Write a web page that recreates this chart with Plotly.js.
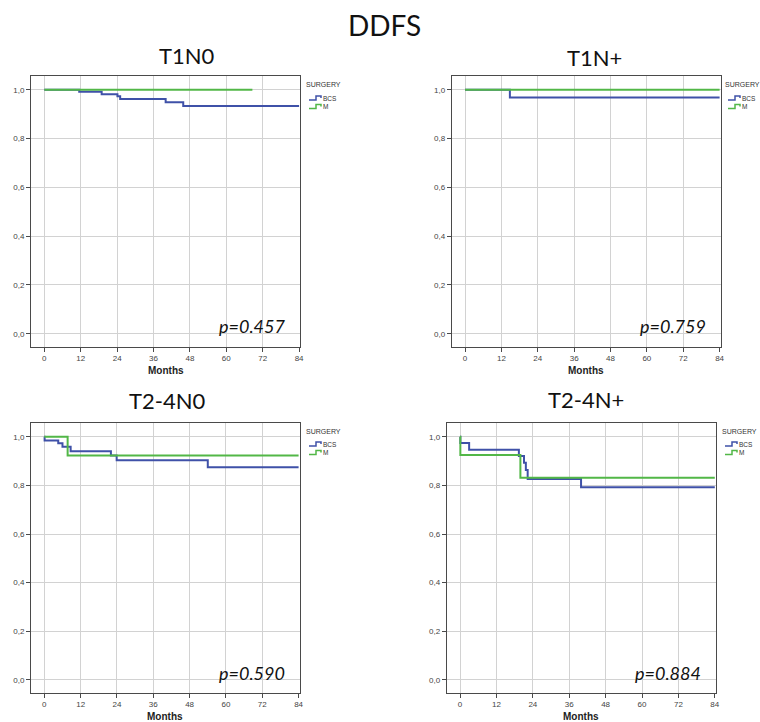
<!DOCTYPE html>
<html>
<head>
<meta charset="utf-8">
<script src="https://cdn.plot.ly/plotly-3.0.1.min.js"></script>
<style>html,body{margin:0;padding:0;background:#fff;}#chart{width:760px;height:722px;}</style>
</head>
<body>
<div id="chart"></div>
<script>
// ---- Data ----
const panelTitles = ["T1N0", "T1N+", "T2-4N0", "T2-4N+"];
const pValues = ["p=0.457", "p=0.759", "p=0.590", "p=0.884"];
const groupNames = ["BCS", "M"];
const xTicks = [0, 12, 24, 36, 48, 60, 72, 84];
const yTicks = [0, 0.2, 0.4, 0.6, 0.8, 1.0];

// T1N0
const t1n0BcsTime = [0, 11.5, 18.9, 24.1, 25.0, 40.0, 45.8, 84];
const t1n0BcsSurv = [1, 0.992, 0.982, 0.974, 0.962, 0.949, 0.934, 0.934];
const t1n0MTime = [0, 68.6];
const t1n0MSurv = [1, 1];
// T1N+
const t1npBcsTime = [0, 14.8, 84];
const t1npBcsSurv = [1, 0.969, 0.969];
const t1npMTime = [0, 84];
const t1npMSurv = [1, 1];
// T2-4N0
const t24n0BcsTime = [0, 0.1, 4.6, 6.0, 8.7, 22.0, 23.9, 54.0, 84];
const t24n0BcsSurv = [1, 0.985, 0.973, 0.959, 0.941, 0.923, 0.904, 0.875, 0.875];
const t24n0MTime = [0, 7.7, 84];
const t24n0MSurv = [1, 0.923, 0.923];
// T2-4N+
const t24npBcsTime = [0, 0.1, 3.0, 19.4, 21.1, 21.7, 22.3, 39.9, 84];
const t24npBcsSurv = [1, 0.974, 0.947, 0.921, 0.893, 0.863, 0.826, 0.792, 0.792];
const t24npMTime = [0, 0.1, 19.9, 84];
const t24npMSurv = [1, 0.925, 0.831, 0.831];

// ---- Styling / layout ----
const W = 760, H = 722;
const BLUE = "#3f51a8", GREEN = "#52b747";
const px = v => v / W;
const py = v => 1 - v / H;

const series = [
  [[t1n0BcsTime, t1n0BcsSurv], [t1n0MTime, t1n0MSurv]],
  [[t1npBcsTime, t1npBcsSurv], [t1npMTime, t1npMSurv]],
  [[t24n0BcsTime, t24n0BcsSurv], [t24n0MTime, t24n0MSurv]],
  [[t24npBcsTime, t24npBcsSurv], [t24npMTime, t24npMSurv]]
];

// plot boxes in pixels: [left, right, top, bottom]
const boxes = [
  [31, 300, 75.7, 346.7],
  [451.7, 720.5, 75.7, 346.7],
  [31, 299.5, 422.7, 692.7],
  [446.7, 715.7, 422.7, 692.7]
];
const titlePos = [[187, 55], [594, 57], [167, 400], [586, 399]];
const legendPos = [[304, 85], [723, 85], [304, 431], [720, 431]];
const monthsY = [370, 370, 716, 716];
const pPos = [[68.5, 0.03], [68.5, 0.03], [68.5, 0.03], [68.5, 0.03]];

const traces = [];
const layout = {
  width: W, height: H,
  margin: {l: 0, r: 0, t: 0, b: 0},
  paper_bgcolor: "#fff", plot_bgcolor: "#fff",
  showlegend: false,
  separators: ",.",
  annotations: [], shapes: []
};

layout.annotations.push({
  text: "DDFS", xref: "paper", yref: "paper", x: px(384), y: py(25),
  xanchor: "center", yanchor: "middle", showarrow: false,
  font: {family: "Lato, 'Open Sans', sans-serif", size: 28, color: "#111"}
});

function colorOf(g) { return g === 0 ? BLUE : GREEN; }

for (let i = 0; i < 4; i++) {
  const n = i + 1;
  const xa = "xaxis" + (n === 1 ? "" : n), ya = "yaxis" + (n === 1 ? "" : n);
  const xr = "x" + (n === 1 ? "" : n), yr = "y" + (n === 1 ? "" : n);
  const b = boxes[i];
  const common = {
    showline: true, mirror: true, linecolor: "#4a4a4a", linewidth: 1,
    showgrid: true, gridcolor: "#d2d2d2", gridwidth: 1, zeroline: false,
    ticks: "outside", ticklen: 4, tickcolor: "#4a4a4a", tickwidth: 1,
    tickfont: {family: "'Liberation Sans', Arial, sans-serif", size: 8, color: "#444"},
    fixedrange: true
  };
  layout[xa] = Object.assign({}, common, {
    domain: [px(b[0]), px(b[1])], anchor: yr,
    range: [-4.4, 84.3], tickvals: xTicks, ticktext: xTicks.map(String)
  });
  layout[ya] = Object.assign({}, common, {
    domain: [py(b[3]), py(b[2])], anchor: xr,
    range: [-0.053, 1.058], tickvals: yTicks, tickformat: ".1f"
  });

  series[i].forEach((s, g) => {
    traces.push({
      x: s[0], y: s[1], type: "scatter", mode: "lines",
      line: {shape: "hv", color: colorOf(g), width: 2},
      name: groupNames[g], xaxis: xr, yaxis: yr, hoverinfo: "x+y+name"
    });
  });

  // subplot title
  layout.annotations.push({
    text: panelTitles[i], xref: "paper", yref: "paper",
    x: px(titlePos[i][0]), y: py(titlePos[i][1]),
    xanchor: "center", yanchor: "middle", showarrow: false,
    font: {family: "Lato, 'Open Sans', sans-serif", size: 22, color: "#111"}
  });
  // p value
  layout.annotations.push({
    text: "<i>" + pValues[i] + "</i>", xref: xr, yref: yr,
    x: pPos[i][0], y: pPos[i][1], xanchor: "center", yanchor: "middle",
    showarrow: false,
    font: {family: "Lato, 'Open Sans', sans-serif", size: 18, color: "#111"}
  });
  // x-axis label
  layout.annotations.push({
    text: "<b>Months</b>", xref: "paper", yref: "paper",
    x: px((b[0] + b[1]) / 2), y: py(monthsY[i]),
    xanchor: "center", yanchor: "middle", showarrow: false,
    font: {family: "'Liberation Sans', Arial, sans-serif", size: 10, color: "#222"}
  });
  // legend
  const lx = legendPos[i][0], ly = legendPos[i][1];
  layout.annotations.push({
    text: "SURGERY", xref: "paper", yref: "paper", x: px(lx), y: py(ly),
    xanchor: "left", yanchor: "middle", showarrow: false,
    font: {family: "'Liberation Sans', Arial, sans-serif", size: 7, color: "#333"}
  });
  groupNames.forEach((gname, g) => {
    const yy = ly + 13 + g * 8.5;
    const x0 = lx + 5;
    layout.shapes.push({
      type: "path", xref: "paper", yref: "paper",
      path: `M${px(x0)},${py(yy + 2)} L${px(x0 + 7)},${py(yy + 2)} L${px(x0 + 7)},${py(yy - 2)} L${px(x0 + 12)},${py(yy - 2)} L${px(x0 + 12)},${py(yy)}`,
      line: {color: colorOf(g), width: 1.5}
    });
    layout.annotations.push({
      text: gname, xref: "paper", yref: "paper", x: px(x0 + 12), y: py(yy),
      xanchor: "left", yanchor: "middle", showarrow: false,
      font: {family: "'Liberation Sans', Arial, sans-serif", size: 6.5, color: "#333"}
    });
  });
}

Plotly.newPlot("chart", traces, layout, {displayModeBar: false, staticPlot: true});
</script>
</body>
</html>
